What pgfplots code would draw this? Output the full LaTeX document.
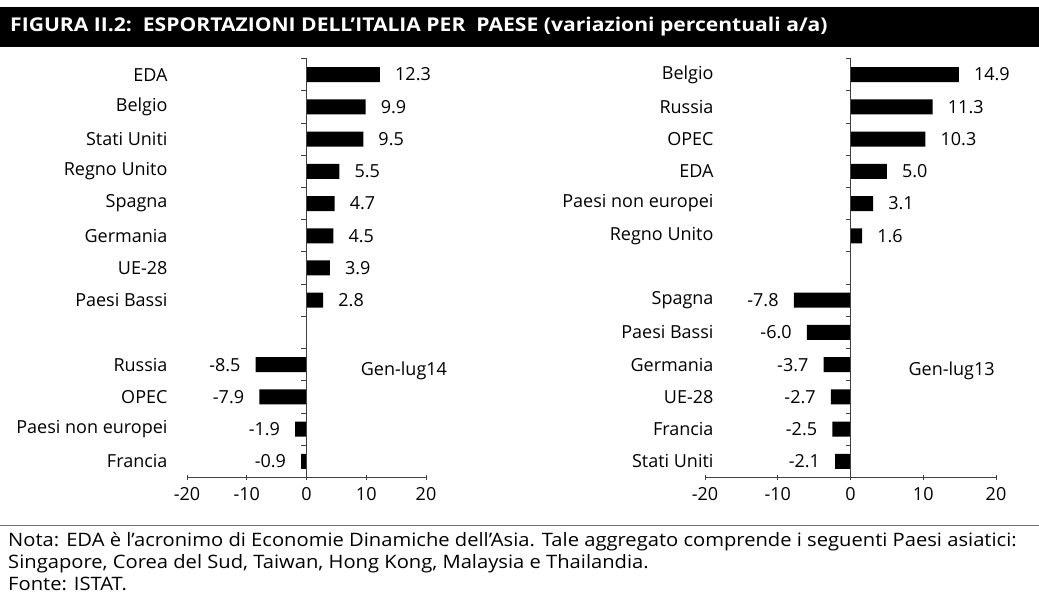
\documentclass[border=0pt]{standalone}
\usepackage{fontspec}
\setmainfont{Open Sans}
\usepackage{pgfplots}
\pgfplotsset{compat=1.18}
\newcommand\lblfont{\fontsize{18}{21}\selectfont}
\pgfplotsset{
  panel/.style={
    scale only axis, height=419pt, clip=false,
    xmin=-20, xmax=20, ymin=0.5, ymax=13.5,
    axis x line=bottom, axis y line=left, axis line style={-, black!75, line width=0.8pt},
    y axis line style={draw=none},
    xtick={-20,-10,0,10,20}, ytick={1,...,13},
    ytick style={draw=none},
    xtick style={black!75, line width=0.8pt},
    major tick length=5pt,
    tick label style={font=\lblfont},
    /pgf/number format/assume math mode=true,
    xticklabel style={yshift=-4pt},
    yticklabel style={anchor=east},
    xbar, bar width=15pt,
    nodes near coords,
    nodes near coords style={font=\lblfont, inner xsep=15pt,
      /pgf/number format/fixed, /pgf/number format/fixed zerofill,
      /pgf/number format/precision=1, /pgf/number format/assume math mode=true},
  }
}
\begin{document}
\begin{tikzpicture}[x=1pt,y=1pt]
\useasboundingbox (0pt,0pt) rectangle (1039pt,597pt);
\fill[black] (0pt,550pt) rectangle (1039pt,590pt);
\node[anchor=west, text=white, inner sep=0pt, font=\fontsize{19}{22}\selectfont\bfseries] at (10pt,570pt) {\scalebox{1.11}[1]{FIGURA II.2:\ \ ESPORTAZIONI DELL'ITALIA PER\ \ PAESE (variazioni percentuali a/a)}};
\draw[black!55, line width=0.8pt] (0pt,72pt) -- (1039pt,72pt);
\node[anchor=base west, inner sep=0pt, font=\fontsize{18.5}{21}\selectfont] at (8pt,50pt) {\scalebox{1.09}[1]{Nota: EDA è l'acronimo di Economie Dinamiche dell'Asia. Tale aggregato comprende i seguenti Paesi asiatici:}};
\node[anchor=base west, inner sep=0pt, font=\fontsize{18.5}{21}\selectfont] at (8pt,28pt) {\scalebox{1.09}[1]{Singapore, Corea del Sud, Taiwan, Hong Kong, Malaysia e Thailandia.}};
\node[anchor=base west, inner sep=0pt, font=\fontsize{18.5}{21}\selectfont] at (8pt,6pt) {\scalebox{1.09}[1]{Fonte: ISTAT.}};

\begin{axis}[panel, width=239pt, at={(187pt,119.5pt)}, anchor=south west,
  yticklabels={Francia,Paesi non europei,OPEC,Russia,{},Paesi Bassi,UE-28,Germania,Spagna,Regno Unito,Stati Uniti,Belgio,EDA},
  yticklabel style={xshift=-11pt}]
\addplot[fill=black, draw=none] coordinates {(-0.9,1) (-1.9,2) (-7.9,3) (-8.5,4) (2.8,6) (3.9,7) (4.5,8) (4.7,9) (5.5,10) (9.5,11) (9.9,12) (12.3,13)};
\draw[black!75, line width=0.8pt] (axis cs:0,0.5) -- (axis cs:0,13.5);
\pgfplotsinvokeforeach{0.5,1.5,2.5,3.5,4.5,5.5,6.5,7.5,8.5,9.5,10.5,11.5,12.5,13.5}{\draw[black!75, line width=0.8pt] (axis cs:0,#1) -- ++(-5pt,0pt);}
\node[font=\lblfont] at (axis cs:16.3,3.8) {Gen-lug14};
\end{axis}

\begin{axis}[panel, width=291pt, at={(705pt,119.5pt)}, anchor=south west,
  yticklabels={Stati Uniti,Francia,UE-28,Germania,Paesi Bassi,Spagna,{},Regno Unito,Paesi non europei,EDA,OPEC,Russia,Belgio},
  yticklabel style={xshift=17pt}]
\addplot[fill=black, draw=none] coordinates {(-2.1,1) (-2.5,2) (-2.7,3) (-3.7,4) (-6.0,5) (-7.8,6) (1.6,8) (3.1,9) (5.0,10) (10.3,11) (11.3,12) (14.9,13)};
\draw[black!75, line width=0.8pt] (axis cs:0,0.5) -- (axis cs:0,13.5);
\pgfplotsinvokeforeach{0.5,1.5,2.5,3.5,4.5,5.5,6.5,7.5,8.5,9.5,10.5,11.5,12.5,13.5}{\draw[black!75, line width=0.8pt] (axis cs:0,#1) -- ++(-5pt,0pt);}
\node[font=\lblfont] at (axis cs:13.9,3.8) {Gen-lug13};
\end{axis}
\end{tikzpicture}
\end{document}
